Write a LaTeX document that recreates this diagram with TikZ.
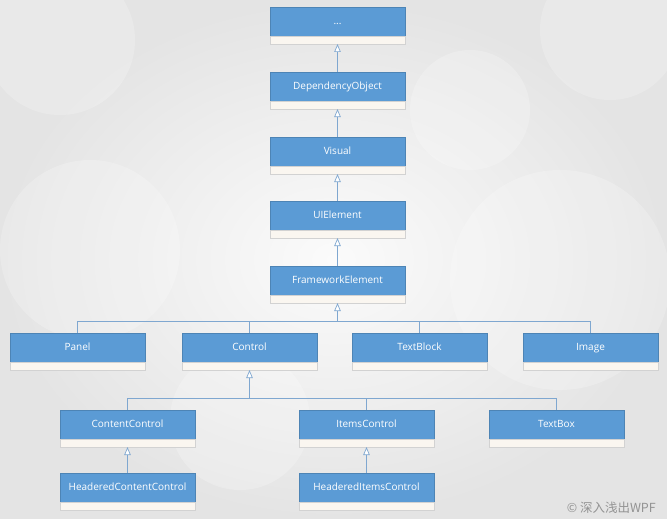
\documentclass[tikz,border=0pt]{standalone}
\usepackage{fontspec}
\setmainfont{Open Sans}
\newfontfamily\cjk{Noto Sans CJK SC}
\usetikzlibrary{arrows.meta,positioning}
\definecolor{boxblue}{HTML}{5B9BD5}
\definecolor{linecol}{HTML}{7FA7D0}
\definecolor{compfill}{HTML}{FAF6F0}
\definecolor{compline}{HTML}{D2D2D2}
\definecolor{bgA}{HTML}{FBFBFB}
\definecolor{bgB}{HTML}{E4E4E4}
\tikzset{
  cls/.style={fill=boxblue, draw=boxblue!85!black, line width=0.3pt, minimum width=135pt, minimum height=29pt, inner sep=0pt, outer sep=0pt, text=white, font=\fontsize{10}{12}\selectfont, text height=7.5pt, text depth=2pt, anchor=north west},
  comp/.style={fill=compfill, draw=compline, line width=0.4pt, minimum width=135pt, minimum height=8pt, inner sep=0pt, outer sep=0pt, anchor=north},
  conn/.style={draw=linecol, line width=0.7pt},
  inh/.style={conn, -{Triangle[open, length=8pt, width=6.5pt, fill=white]}},
  bubble/.style={fill=white, opacity=0.22, draw=none}
}
\newcommand{\umlcls}[4]{%
  \node[cls] (#1) at (#2,#3) {#4};
  \node[comp] (#1-c) at (#1.south) {};
}
\begin{document}
\begin{tikzpicture}[x=1pt,y=-1pt]
\useasboundingbox (0,0) rectangle (667,519);
% background
\shade[inner color=bgA, outer color=bgB] (0,0) rectangle (667,519);
\fill[bubble] (60,40) circle (75);
\fill[bubble] (610,30) circle (70);
\fill[bubble] (560,280) circle (110);
\fill[bubble] (90,250) circle (90);
\fill[bubble] (240,420) circle (70);
\fill[bubble] (470,110) circle (60);
% classes
\umlcls{dots}{270}{7}{...}
\umlcls{dobj}{270}{72}{DependencyObject}
\umlcls{visual}{270}{137}{Visual}
\umlcls{uie}{270}{201}{UIElement}
\umlcls{fe}{270}{266}{FrameworkElement}
\umlcls{panel}{10}{333}{Panel}
\umlcls{control}{182}{333}{Control}
\umlcls{tblock}{352}{333}{TextBlock}
\umlcls{image}{523}{333}{Image}
\umlcls{cc}{60}{410}{ContentControl}
\umlcls{ic}{299}{410}{ItemsControl}
\umlcls{tbox}{489}{410}{TextBox}
\umlcls{hcc}{60}{473}{HeaderedContentControl}
\umlcls{hic}{299}{473}{HeaderedItemsControl}
% inheritance chain
\draw[inh] (dobj.north) -- (dots-c.south);
\draw[inh] (visual.north) -- (dobj-c.south);
\draw[inh] (uie.north) -- (visual-c.south);
\draw[inh] (fe.north) -- (uie-c.south);
% bus under FrameworkElement
\coordinate (busA) at (337.5,321);
\draw[inh] (busA) -- (fe-c.south);
\draw[conn] (panel.north) -- (panel.north |- busA) -- (image.north |- busA) -- (image.north);
\draw[conn] (control.north) -- (control.north |- busA);
\draw[conn] (tblock.north) -- (tblock.north |- busA);
% bus under Control
\coordinate (busB) at (249.5,398);
\draw[inh] (busB) -- (control-c.south);
\draw[conn] (cc.north) -- (cc.north |- busB) -- (tbox.north |- busB) -- (tbox.north);
\draw[conn] (ic.north) -- (ic.north |- busB);
% headered
\draw[inh] (hcc.north) -- (cc-c.south);
\draw[inh] (hic.north) -- (ic-c.south);
% watermark
\node[anchor=east, text=gray!85, font=\fontsize{12.5}{14}\selectfont, inner sep=0pt] (wm) at (656,508) {\cjk © 深入浅出WPF};
\end{tikzpicture}
\end{document}
